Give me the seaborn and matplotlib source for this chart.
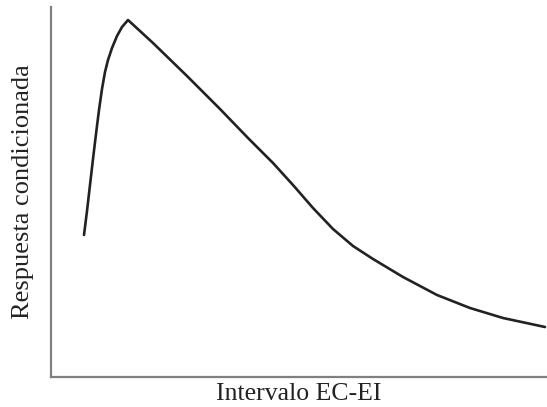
import matplotlib
matplotlib.use("Agg")
import matplotlib.pyplot as plt
import seaborn as sns
import pandas as pd

# curve (x: interval, y: response), arbitrary units
intervalo = [84, 87, 90, 93, 96, 99, 102, 105, 108, 112, 117, 122, 128,
             153, 187, 220, 248, 273, 293, 313, 333, 353, 373, 388,
             403, 437, 470, 503, 545]
respuesta = [172, 196, 222, 248, 273, 297, 318, 335, 347, 359, 371, 380, 387,
             364, 331, 298, 269, 244, 222, 199, 178, 161, 148, 139,
             130, 112, 99, 89, 80]

df = pd.DataFrame({"intervalo": intervalo, "respuesta": respuesta})

sns.set_style("white")
plt.rcParams["font.family"] = ["Liberation Serif", "DejaVu Serif"]

fig = plt.figure(figsize=(5.47, 4.07), dpi=100)
ax = fig.add_axes([51 / 547, 30 / 407, 1 - 51 / 547, 370 / 407])

sns.lineplot(data=df, x="intervalo", y="respuesta", ax=ax,
             color="#222222", linewidth=1.9, sort=False)

ax.set_xlim(51, 547)
ax.set_ylim(30, 400)
ax.set_xticks([])
ax.set_yticks([])
ax.set_xlabel("Intervalo EC-EI", fontsize=18.5, color="#222222", labelpad=4)
ax.set_ylabel("Respuesta condicionada", fontsize=19, color="#222222", labelpad=12)

for side in ["top", "right"]:
    ax.spines[side].set_visible(False)
for side in ["left", "bottom"]:
    ax.spines[side].set_color("#808080")
    ax.spines[side].set_linewidth(1.6)

fig.savefig("out.png", dpi=100)
